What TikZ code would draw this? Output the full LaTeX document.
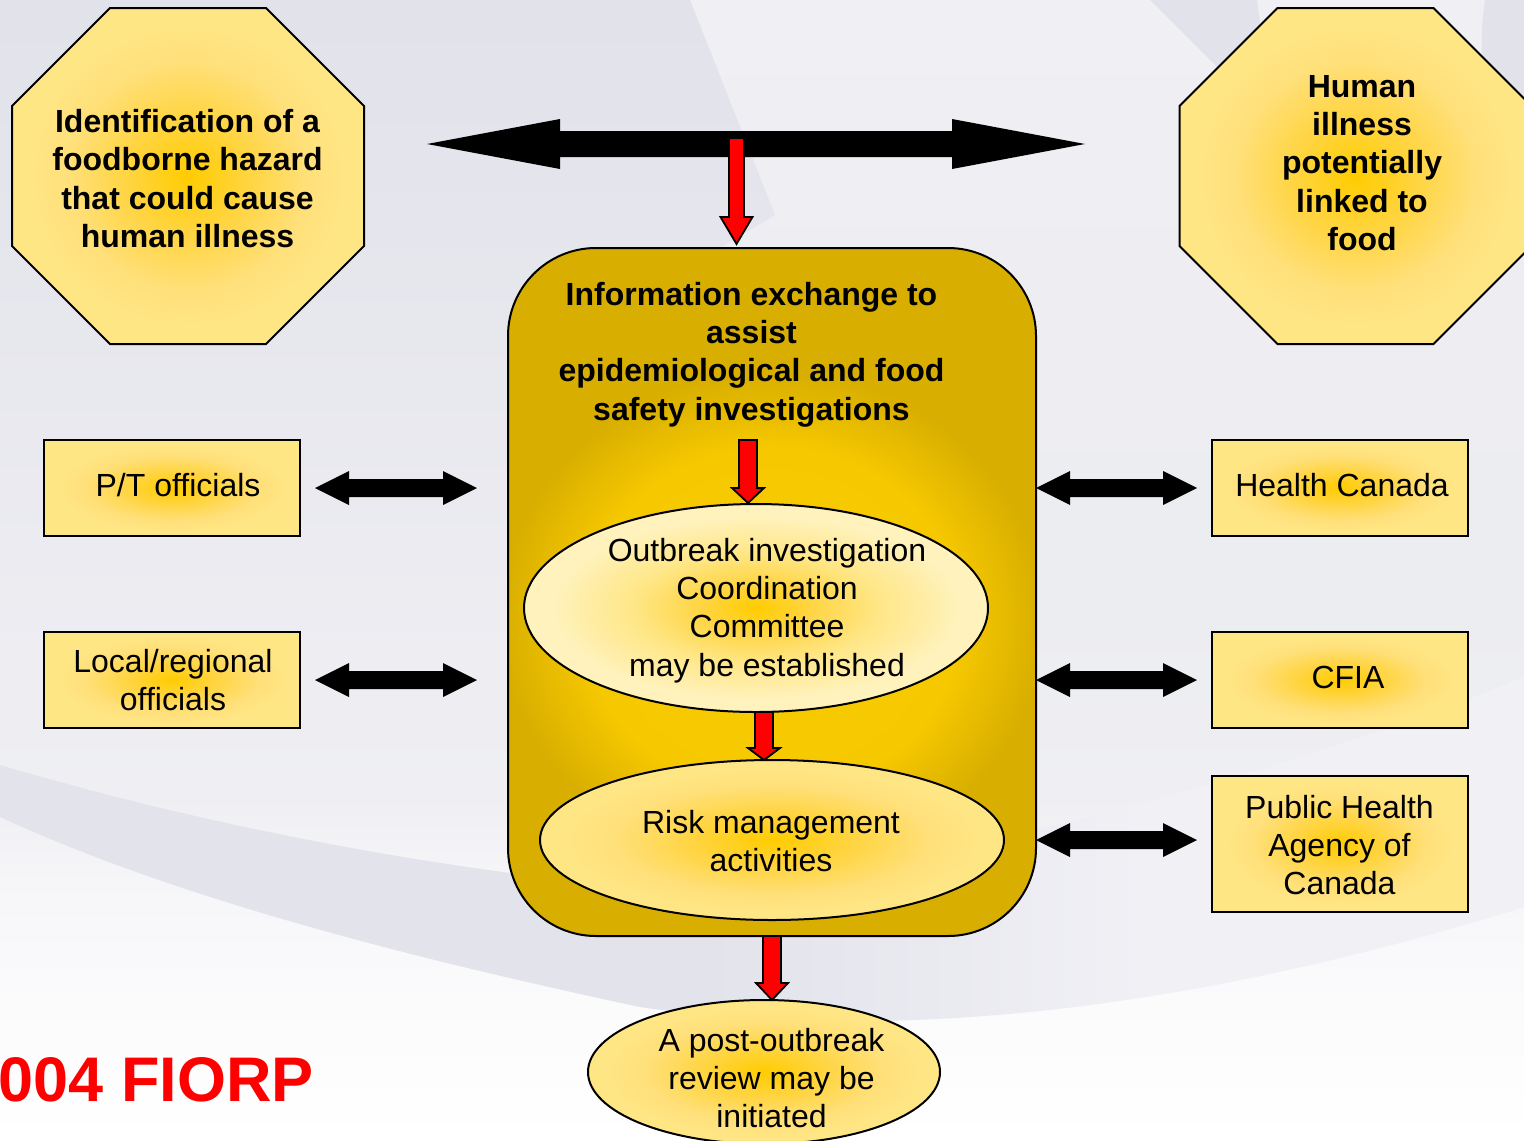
\documentclass[tikz,border=0pt]{standalone}
\usepackage{fontspec}
\setmainfont{Liberation Sans}
\usetikzlibrary{calc,shapes.geometric}
\definecolor{wedge}{HTML}{E1E2EA}
\definecolor{basec}{HTML}{EDEDF2}
\definecolor{basetop}{HTML}{F0F0F4}
\definecolor{basemid}{HTML}{ECEDF1}
\definecolor{lowz}{HTML}{EFEFF3}
\definecolor{lowa}{HTML}{F6F6F9}
\definecolor{lowb}{HTML}{FBFBFC}
\definecolor{bandl}{HTML}{E2E3EB}
\definecolor{bandr}{HTML}{F0F0F5}
\definecolor{gold}{HTML}{FFCC00}
\definecolor{goldb}{HTML}{FFD544}
\definecolor{goldc}{HTML}{FFE07A}
\definecolor{goldd}{HTML}{FFE685}
\definecolor{pale}{HTML}{FFF2BD}
\definecolor{boxa}{HTML}{F9CC00}
\definecolor{boxb}{HTML}{F5C800}
\definecolor{boxc}{HTML}{D8AE00}
\pgfdeclareradialshading{glowY}{\pgfpoint{0bp}{0bp}}{color(0bp)=(gold);color(9bp)=(goldb);color(17bp)=(goldc);color(23bp)=(goldd);color(50bp)=(goldd)}
\pgfdeclareradialshading{glowP}{\pgfpoint{0bp}{0bp}}{color(0bp)=(gold);color(6bp)=(goldb);color(13bp)=(goldd);color(22bp)=(pale);color(50bp)=(pale)}
\pgfdeclareradialshading{glowB}{\pgfpoint{0bp}{0bp}}{color(0bp)=(boxa);color(18bp)=(boxb);color(26bp)=(boxc);color(50bp)=(boxc)}
\pgfdeclareverticalshading{pagebg}{100bp}{color(0bp)=(white);color(25bp)=(white);color(31bp)=(lowb);color(36.4bp)=(lowa);color(40bp)=(lowz);color(48.7bp)=(basemid);color(61.8bp)=(basec);color(75bp)=(basetop);color(100bp)=(basetop)}
\pgfdeclareverticalshading{wedgebg}{100bp}{color(0bp)=(basec);color(28bp)=(basec);color(75bp)=(wedge);color(100bp)=(wedge)}
\pgfdeclarehorizontalshading{bandbg}{100bp}{color(0bp)=(bandl);color(48bp)=(bandl);color(62.5bp)=(bandr);color(100bp)=(bandr)}
\tikzset{
 x=0.5pt,y=-0.5pt,
 shape line/.style={draw=black,line width=1pt,outer sep=0pt,inner sep=0pt},
 glowbox/.style={shape line,rectangle,shade,shading=glowY,minimum width=128pt},
 octframe/.style={rectangle,inner sep=0pt,outer sep=0pt,minimum width=176pt,minimum height=168pt},
 txt/.style={font=\fontsize{16}{19.2}\selectfont,align=center,inner sep=0pt,text=black},
 btxt/.style={txt,font=\fontsize{16}{19.2}\selectfont\bfseries},
 redblock/.style={fill=red,draw=black,line width=0.9pt,miter limit=10},
 blackblock/.style={fill=black},
}
% #1 node name: the octagon is cut 49pt from each corner of the frame
\newcommand\octagon[1]{\path[draw=black,line width=1pt,shade,shading=glowY]
 ($(#1.north west)+(98,0)$) -- ($(#1.north east)+(-98,0)$) -- ($(#1.north east)+(0,98)$) -- ($(#1.south east)+(0,-98)$)
 -- ($(#1.south east)+(-98,0)$) -- ($(#1.south west)+(98,0)$) -- ($(#1.south west)+(0,-98)$) -- ($(#1.north west)+(0,98)$) -- cycle;}
% #1 start, #2 tip, #3 head length, #4 head half width, #5 shaft half width
\newcommand\downblock[5]{\path[redblock] let \p1=(#1),\p2=(#2) in
 (\x1-#5,\y1) -- (\x1+#5,\y1) -- (\x1+#5,\y2+#3) -- (\x1+#4,\y2+#3) -- (\x1,\y2) -- (\x1-#4,\y2+#3) -- (\x1-#5,\y2+#3) -- cycle;}
\newcommand\twoway[5]{\path[blackblock] let \p1=(#1),\p2=(#2) in
 (\x1,\y1) -- (\x1+#3,\y1+#4) -- (\x1+#3,\y1+#5) -- (\x2-#3,\y1+#5) -- (\x2-#3,\y1+#4) -- (\x2,\y1)
 -- (\x2-#3,\y1-#4) -- (\x2-#3,\y1-#5) -- (\x1+#3,\y1-#5) -- (\x1+#3,\y1-#4) -- cycle;}
\begin{document}
\begin{tikzpicture}
\clip (0,0) rectangle (1524,1140);
% backdrop
\path[shade,shading=pagebg] (0,0) rectangle (1524,1140);
\path[shade,shading=wedgebg] (0,0) -- (690,0) -- (775,215) -- (700,260) -- (700,700) -- (0,700) -- cycle;
\path[fill=wedge] (1150,0) -- (1225,75) -- (1262,40) .. controls (1260,25) and (1259,12) .. (1257,0) -- cycle;
\path[fill=wedge] (1485,0) .. controls (1480,35) and (1480,60) .. (1490,100) -- (1524,120) -- (1524,0) -- cycle;
\path[shade,shading=bandbg] (0,765) .. controls (170,815) and (340,850) .. (510,873)
  .. controls (680,905) and (900,870) .. (1036,830) .. controls (1200,790) and (1370,740) .. (1524,677)
  -- (1524,907) .. controls (1370,955) and (1200,995) .. (1030,1012)
  .. controls (900,1025) and (760,1025) .. (640,1007) .. controls (420,960) and (180,900) .. (0,817) -- cycle;
% shapes
\node[octframe] (o1) at (188,176) {};
\node[octframe] (o2) at (1355.5,176) {};
\octagon{o1}
\octagon{o2}
\node[shape line,rectangle,rounded corners=44pt,fill=boxc,minimum width=264pt,minimum height=344pt] (box) at (772,592) {};
\path[shade,shading=glowB] (510,380) rectangle (1034,860);
\node[glowbox,minimum height=48pt] (pt) at (172,488) {};
\node[glowbox,minimum height=48pt] (loc) at (172,680) {};
\node[glowbox,minimum height=48pt] (hc) at (1340,488) {};
\node[glowbox,minimum height=48pt] (cfia) at (1340,680) {};
\node[glowbox,minimum height=68pt] (phac) at (1340,844) {};
\node[shape line,ellipse,shade,shading=glowP,minimum width=232pt,minimum height=104pt] (e1) at (756,608) {};
\node[shape line,ellipse,shade,shading=glowY,minimum width=232pt,minimum height=80pt] (e2) at (772,840) {};
\node[shape line,ellipse,shade,shading=glowY,minimum width=176pt,minimum height=72pt] (e3) at (764,1072) {};
% text
\node[btxt] (o1t) at (187.5,178.5) {Identification of a\\foodborne hazard\\that could cause\\human illness};
\node[btxt] (o2t) at (1362,163) {Human\\illness\\potentially\\linked to\\food};
\node[btxt] (boxt) at (751.5,354.5) {Information exchange to\\assist\\epidemiological and food\\safety investigations};
\node[txt] (e1t) at (767,610.5) {Outbreak investigation\\Coordination\\Committee\\may be established};
\node[txt] (e2t) at (771,841) {Risk management\\activities};
\node[txt] (e3t) at (771.5,1078) {A post-outbreak\\review may be\\initiated};
\node[txt] (ptt) at (178,485) {P/T officials};
\node[txt] (loct) at (173,680) {Local/regional\\officials};
\node[txt] (hct) at (1342,485) {Health Canada};
\node[txt] (cfiat) at (1348,677) {CFIA};
\node[txt] (phact) at (1339.5,845) {Public Health\\Agency of\\Canada};
\node[inner sep=0pt,anchor=east,text=red,font=\fontsize{31.5}{38}\selectfont\bfseries] (fiorp) at (314,1080) {004 FIORP};
% connectors
\coordinate (bigL) at ($(o1.east)+(63,-32)$);
\coordinate (bigR) at ($(o2.west)+(-94.5,-32)$);
\twoway{bigL}{bigR}{66.5pt}{12.5pt}{6.5pt}
\coordinate (r1s) at (736.5,138);
\coordinate (r1t) at ($(736.5,0 |- box.north)+(0,-4)$);
\downblock{r1s}{r1t}{13.5pt}{8pt}{3.75pt}
\coordinate (r2s) at (748,440);
\coordinate (r2t) at ($(748,0 |- e1.north)+(0,-1)$);
\downblock{r2s}{r2t}{7.5pt}{8pt}{4.5pt}
\coordinate (r3s) at (764,0 |- e1.south);
\coordinate (r3t) at (764,0 |- e2.north);
\downblock{r3s}{r3t}{6pt}{8pt}{4.5pt}
\coordinate (r4s) at (box.south);
\coordinate (r4t) at (box.south |- e3.north);
\downblock{r4s}{r4t}{8.5pt}{8pt}{4.5pt}
\twoway{$(pt.east)+(15,0)$}{$(box.west |- pt.east)+(-31,0)$}{17pt}{8.5pt}{4.5pt}
\twoway{$(loc.east)+(15,0)$}{$(box.west |- loc.east)+(-31,0)$}{17pt}{8.5pt}{4.5pt}
\twoway{$(box.east |- hc.west)+(0,0)$}{$(hc.west)+(-15,0)$}{17pt}{8.5pt}{4.5pt}
\twoway{$(box.east |- cfia.west)+(0,0)$}{$(cfia.west)+(-15,0)$}{17pt}{8.5pt}{4.5pt}
\twoway{$(box.east |- phac.west)+(0,-4)$}{$(phac.west)+(-15,-4)$}{17pt}{8.5pt}{4.5pt}
\end{tikzpicture}
\end{document}
